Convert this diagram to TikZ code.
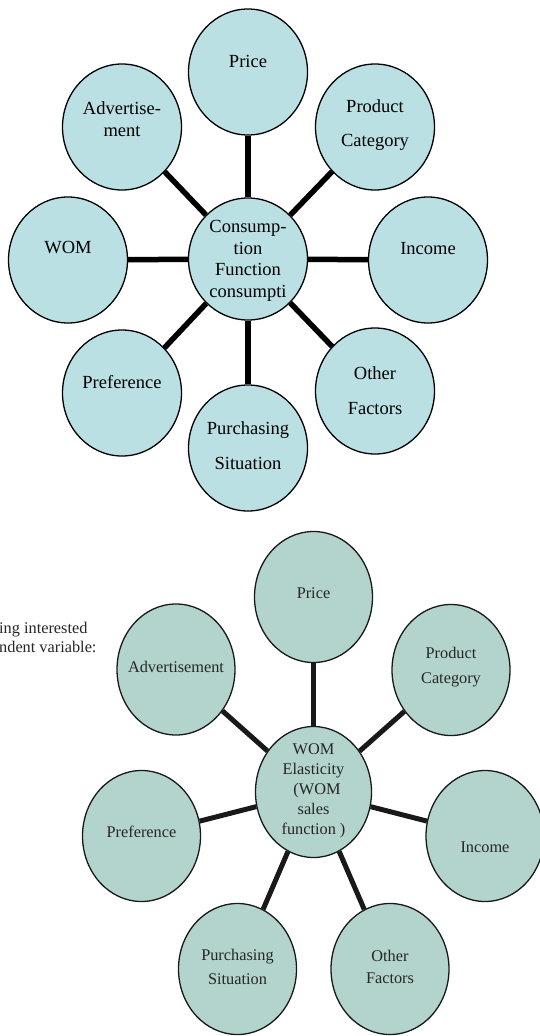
\documentclass[tikz,border=0pt]{standalone}
\usepackage{fontspec}
\setmainfont{Liberation Serif}
\usetikzlibrary{shapes.geometric}
\definecolor{topfill}{RGB}{186,224,228}
\definecolor{botfill}{RGB}{178,212,204}
\tikzset{
  topball/.style={ellipse,draw,line width=1.3pt,fill=topfill,minimum width=119pt,minimum height=126pt,inner sep=0pt},
  botball/.style={ellipse,draw=black!90,line width=1.3pt,fill=botfill,minimum width=118pt,minimum height=131pt,inner sep=0pt},
  toptxt/.style={align=center,inner sep=0pt,font=\fontsize{18.5}{21.5}\selectfont},
  bottxt/.style={align=center,inner sep=0pt,text=black!85,font=\fontsize{16.3}{20.5}\selectfont},
  toplink/.style={line width=5.5pt},
  botlink/.style={line width=5pt,draw=black!90},
}
\begin{document}
\begin{tikzpicture}[x=1pt,y=-1pt]
\useasboundingbox (0,0) rectangle (540,1036);
% \draw[red] (0,0) rectangle (540,1036);
    \node[topball] (tprice)  at (248,72)  {};
    \node[topball] (tadvert) at (122,127) {};
    \node[topball] (tcat)    at (375,127) {};
    \node[topball] (twom)    at (68,260)  {};
    \node[topball,minimum height=122pt] (tcons) at (248,259) {};
    \node[topball] (tincome) at (428,260) {};
    \node[topball] (tpref)   at (122,393) {};
    \node[topball] (tother)  at (375,391) {};
    \node[topball] (tbuy)    at (248,448) {};
    \foreach \n in {tprice,tcat,tincome,tother,tbuy,tpref,twom,tadvert}{\draw[toplink] (tcons) -- (\n);}
    \node[toptxt] (tprice-t)  at (248,61)  {Price};
    \node[toptxt] (tadvert-t) at (122,119) {Advertise-\\ment};
    \node[toptxt] (tcat-t)    at (375,125) {Product\\[12.5pt]Category};
    \node[toptxt] (twom-t)    at (68,248)  {WOM};
    \node[toptxt] (tcons-t)   at (248,261) {Consump-\\tion\\Function\\consumpti};
    \node[toptxt] (tincome-t) at (428,249) {Income};
    \node[toptxt] (tpref-t)   at (122,382) {Preference};
    \node[toptxt] (tother-t)  at (375,391) {Other\\[13.5pt]Factors};
    \node[toptxt] (tbuy-t)    at (248,446) {Purchasing\\[13.5pt]Situation};
%
    \node[bottxt,anchor=west,align=left,font=\fontsize{16.3}{19}\selectfont] (cut) at (-1,637) {ing interested\\ndent variable:};
    \node[botball] (bprice)  at (313.5,597) {};
    \node[botball] (badvert) at (176,669.5) {};
    \node[botball] (bcat)    at (451,670)   {};
    \node[botball,minimum width=116pt] (bcons) at (313.5,792) {};
    \node[botball] (bpref)   at (141.5,836) {};
    \node[botball] (bincome) at (485,836)   {};
    \node[botball] (bbuy)    at (237.5,969) {};
    \node[botball] (bother)  at (390,969)   {};
    \foreach \n in {bprice,bcat,bincome,bother,bbuy,bpref,badvert}{\draw[botlink] (bcons) -- (\n);}
    \node[bottxt] (bprice-t)  at (313.5,593) {Price};
    \node[bottxt] (badvert-t) at (176,667)   {Advertisement};
    \node[bottxt] (bcat-t)    at (451,667)   {Product\\[4pt]Category};
    \node[bottxt,font=\fontsize{16.3}{20}\selectfont] (bcons-t) at (313.5,791) {WOM\\Elasticity\\\hspace*{7pt}(WOM\\sales\\function )};
    \node[bottxt] (bpref-t)   at (141.5,832) {Preference};
    \node[bottxt] (bincome-t) at (485,847)   {Income};
    \node[bottxt] (bbuy-t)    at (237.5,967) {Purchasing\\[3pt]Situation};
    \node[bottxt] (bother-t)  at (390,967)   {Other\\[2pt]Factors};
\end{tikzpicture}
\end{document}
